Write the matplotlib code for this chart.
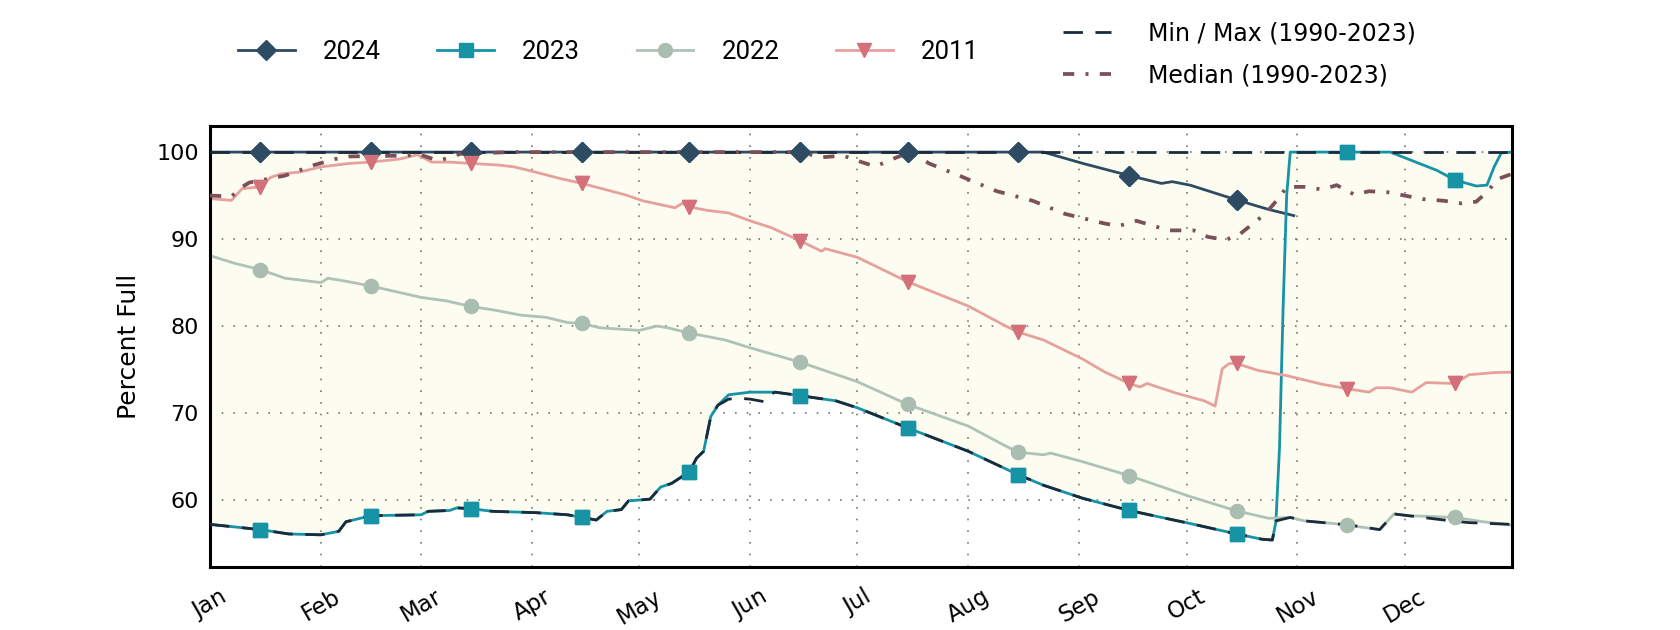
import matplotlib.pyplot as plt
from matplotlib.lines import Line2D

plt.rcParams['font.family'] = ['DejaVu Sans']

# x axis = day of year (0 = Jan 1)
months = ['Jan', 'Feb', 'Mar', 'Apr', 'May', 'Jun', 'Jul', 'Aug', 'Sep', 'Oct', 'Nov', 'Dec']
month_start = [0, 31, 59, 90, 120, 151, 181, 212, 243, 273, 304, 334]
mid_month = [d + 14 for d in month_start]

days_2024 = [0, 14, 45, 73, 104, 134, 165, 195, 226, 233, 244, 257, 266, 269, 274, 287, 296, 303]
pct_2024 = [100, 100, 100, 100, 100, 100, 100, 100, 100, 100, 98.7, 97.3, 96.4, 96.6, 96.2, 94.5, 93.4, 92.7]

days_2023 = [0, 14, 22, 31, 36, 38, 45, 59, 61, 67, 69, 73, 79, 91, 100, 104, 108, 111, 115, 117,
             123, 126, 129, 132, 134, 136, 138, 140, 142, 145, 151, 158, 165, 175, 181, 195, 212, 226, 233, 244,
             257, 266, 274, 287, 294, 297, 298, 299, 300, 301, 302, 318, 330, 343, 348, 354, 357, 359, 361, 364]
pct_2023 = [57.2, 56.6, 56.1, 56.0, 56.4, 57.5, 58.2, 58.3, 58.7, 58.8, 59.1, 59.0, 58.7, 58.55, 58.3, 58.0, 57.7, 58.7, 58.9, 59.9,
            60.1, 61.5, 61.9, 62.7, 63.2, 64.8, 65.6, 69.6, 70.9, 72.1, 72.4, 72.4, 72.0, 71.4, 70.6, 68.3, 65.6, 62.9, 61.7, 60.2,
            58.8, 58.0, 57.3, 56.1, 55.5, 55.4, 57.5, 66, 82, 95, 100, 100, 100, 97.9, 96.8, 96.1, 96.2, 98.3, 99.9, 100]

days_2022 = [0, 7, 14, 21, 31, 33, 38, 45, 59, 66, 73, 80, 87, 94, 100, 104, 109, 120, 125, 128,
             134, 144, 151, 165, 181, 195, 212, 222, 226, 233, 235, 244, 257, 274, 287, 296, 302, 306, 314, 318,
             327, 331, 335, 348, 356, 364]
pct_2022 = [88.1, 87.2, 86.5, 85.5, 85.0, 85.5, 85.15, 84.6, 83.3, 82.9, 82.25, 81.8, 81.25, 81.0, 80.4, 80.3, 79.8, 79.5, 80.0, 79.8,
            79.2, 78.4, 77.5, 75.85, 73.6, 71.0, 68.5, 66.3, 65.5, 65.2, 65.4, 64.4, 62.8, 60.4, 58.75, 57.9, 58.0, 57.6, 57.3, 57.1,
            56.6, 58.4, 58.2, 58.0, 57.5, 57.1]

days_2011 = [0, 6, 9, 14, 17, 20, 25, 31, 39, 45, 53, 58, 62, 67, 73, 81, 85, 91, 98, 104,
             116, 121, 130, 132, 134, 139, 145, 151, 157, 165, 171, 172, 181, 195, 212, 222, 226, 233, 244, 250,
             257, 260, 262, 270, 278, 281, 283, 285, 287, 293, 301, 311, 318, 324, 326, 330, 336, 340, 348, 352,
             359, 364]
pct_2011 = [94.65, 94.45, 95.8, 96.0, 97.1, 97.5, 97.7, 98.3, 98.7, 98.85, 99.2, 99.7, 98.85, 98.85, 98.7, 98.5, 98.3, 97.7, 96.95, 96.4,
            95.1, 94.4, 93.6, 94.1, 93.7, 93.3, 93.0, 92.1, 91.3, 89.8, 88.6, 88.9, 87.9, 85.1, 82.3, 80.1, 79.3, 78.4, 76.2, 74.75,
            73.4, 73.0, 73.4, 72.3, 71.4, 70.8, 75.1, 75.7, 75.7, 74.9, 74.3, 73.3, 72.8, 72.4, 72.9, 72.9, 72.4, 73.5, 73.4, 74.4,
            74.65, 74.7]

# 1990-2023 statistics
min_days = [0, 14, 22, 31, 36, 38, 45, 59, 61, 67, 69, 73, 79, 91, 100, 104, 108, 111, 115, 117,
            123, 126, 129, 132, 134, 136, 138, 140, 142, 145, 148, 151, 155, 157, 158, 165, 175, 181, 195, 212,
            226, 233, 244, 257, 266, 274, 287, 294, 297, 298, 302, 306, 314, 319, 327, 331, 335, 345, 352, 364]
min_pct = [57.2, 56.6, 56.1, 56.0, 56.4, 57.5, 58.2, 58.3, 58.7, 58.8, 59.1, 59.0, 58.7, 58.55, 58.3, 58.0, 57.7, 58.7, 58.9, 59.9,
           60.1, 61.5, 61.9, 62.7, 63.2, 64.8, 65.6, 69.6, 70.9, 71.6, 71.7, 71.6, 71.3, 72.2, 72.4, 72.0, 71.4, 70.6, 68.3, 65.6,
           62.9, 61.7, 60.2, 58.8, 58.0, 57.3, 56.1, 55.5, 55.4, 57.6, 58.0, 57.6, 57.3, 57.1, 56.6, 58.4, 58.2, 57.7, 57.4, 57.2]
max_days = [0, 364]
max_pct = [100, 100]

med_days = [0, 6, 9, 11, 21, 29, 35, 39, 55, 58, 64, 70, 84, 165, 171, 177, 181, 186, 192, 196,
            201, 210, 220, 230, 239, 245, 250, 254, 259, 268, 275, 279, 284, 288, 295, 299, 301, 306, 311, 315,
            320, 324, 329, 334, 339, 345, 350, 354, 357, 360, 364]
med_pct = [95.0, 94.9, 96.0, 96.5, 97.3, 98.5, 99.2, 99.5, 99.6, 99.8, 99.0, 99.8, 100, 100, 99.4, 99.6, 99.0, 98.35, 99.4, 100,
           98.7, 97.2, 95.5, 94.4, 92.9, 92.3, 91.8, 91.5, 92.1, 91.0, 91.0, 90.25, 89.9, 90.6, 92.9, 94.8, 96.0, 96.0, 95.7, 96.2,
           95.1, 95.5, 95.4, 95.0, 94.6, 94.4, 94.1, 94.3, 95.4, 96.9, 97.5]

# label, days, values, line colour, marker colour, marker, size
years = [
    ('2024', days_2024, pct_2024, '#2d4b63', '#2d4b63', 'D', 10),
    ('2023', days_2023, pct_2023, '#1793a6', '#1793a6', 's', 9.5),
    ('2022', days_2022, pct_2022, '#aec2b5', '#aabdb1', 'o', 10),
    ('2011', days_2011, pct_2011, '#e6a19d', '#d4707a', 'v', 10),
]

fig, ax = plt.subplots(figsize=(16.8, 6.3), dpi=100)
fig.subplots_adjust(left=0.125, right=0.9, bottom=0.1, top=0.8)

ax.fill_between(min_days, min_pct, max(max_pct), color='#fcfcf1', lw=0, zorder=0.3)

handles = []
for label, d, v, lc, mc, mk, ms in years:
    marks = [i for i, day in enumerate(d) if day in mid_month]
    ln, = ax.plot(d, v, color=lc, lw=2, marker=mk, ms=ms, mfc=mc, mec=mc,
                  markevery=marks, label=label, zorder=2)
    handles.append(ln)
    # markers again on top of the min/max/median lines
    ax.plot(d, v, ls='none', marker=mk, ms=ms, mfc=mc, mec=mc, markevery=marks, zorder=5)

mm_style = dict(color='#1b2b3b', lw=2, dashes=(7, 4.5))
med_style = dict(color='#7b5059', lw=2.7, dashes=(3, 3, 0.8, 3))
ax.plot(max_days, max_pct, zorder=3, **mm_style)
ax.plot(min_days, min_pct, zorder=3, **mm_style)
ax.plot(med_days, med_pct, zorder=4, **med_style)

ax.set_xlim(0, 364)
ax.set_ylim(52.3, 103)
ax.set_xticks(month_start)
ax.set_xticklabels(months, rotation=30, ha='center', fontsize=16.5)
ax.set_yticks([60, 70, 80, 90, 100])
ax.tick_params(axis='both', length=0)
ax.tick_params(axis='x', pad=13)
ax.tick_params(axis='y', pad=8, labelsize=16)
ax.set_ylabel('Percent Full', fontsize=18, labelpad=11)

ax.set_axisbelow(True)
ax.grid(True, color='#777777', lw=1.2, linestyle=(0, (1, 6)))
for sp in ax.spines.values():
    sp.set_linewidth(2.2)
    sp.set_color('black')

fig.legend(handles=handles, loc='center left', bbox_to_anchor=(0.1417, 0.918), ncol=4,
           frameon=False, borderpad=0, borderaxespad=0, handlelength=2.2, handletextpad=1.1,
           columnspacing=2.2, prop={'family': 'Roboto', 'size': 18.5})

stat_handles = [Line2D([], [], **mm_style), Line2D([], [], **med_style)]
fig.legend(stat_handles, ['Min / Max (1990-2023)', 'Median (1990-2023)'], loc='center left',
           bbox_to_anchor=(0.633, 0.914), frameon=False, borderpad=0, borderaxespad=0,
           handlelength=2.0, handletextpad=1.6, labelspacing=0.75, fontsize=17)

fig.savefig('out.png', dpi=100)
